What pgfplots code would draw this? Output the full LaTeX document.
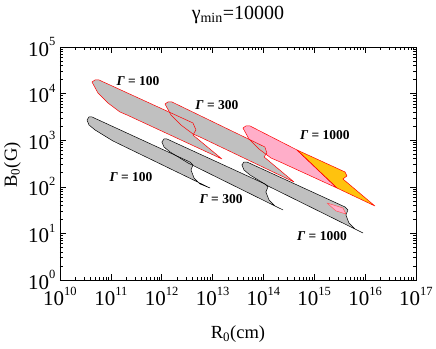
\documentclass[border=0pt]{standalone}
\usepackage{pgfplots}
\pgfplotsset{compat=1.18}
\usepackage{pgfplotstable}
\usepackage{fontspec}
\setmainfont{Liberation Serif}
\definecolor{grayfill}{RGB}{192,192,192}
\definecolor{pinkfill}{RGB}{255,174,201}
\definecolor{orangefill}{RGB}{255,194,14}
\newcommand{\tp}[1]{10\raisebox{0.48em}{\fontsize{12.5}{12.5}\selectfont #1}}

% red Gamma=100
\pgfplotstableread{
x y
4.26e10 1.77e4
4.88e10 1.96e4
5.85e10 1.96e4
4.12e12 2.34e3
4.72e12 1.66e3
4.12e12 1.29e3
1.53e13 395
2.07e11 3.48e3
1.51e11 4.03e3
8.79e10 6.28e3
5.58e10 1.03e4
4.26e10 1.77e4
}\redA
% red Gamma=300
\pgfplotstableread{
x y
1.16e12 5.98e3
1.33e12 6.61e3
1.59e12 6.61e3
1.07e14 714
1.17e14 531
1.03e14 437
3.99e14 127
5.66e12 1.17e3
4.12e12 1.36e3
2.39e12 2.12e3
1.52e12 3.48e3
1.16e12 5.98e3
}\redB
% red Gamma=1000, pink part
\pgfplotstableread{
x y
3.96e13 1.83e3
4.54e13 2.02e3
5.45e13 2.02e3
4.57e14 617
2.79e15 94.2
1.93e14 358
1.41e14 415
8.18e13 647
5.20e13 1.06e3
3.96e13 1.83e3
}\redCpink
% red Gamma=1000, orange part
\pgfplotstableread{
x y
4.57e14 617
4.02e15 208
4.40e15 171
3.66e15 147
1.56e16 38.7
2.79e15 94.2
4.57e14 617
}\redCorange
% black Gamma=100
\pgfplotstableread{
x y
3.40e10 2.71e3
3.72e10 3.15e3
4.26e10 3.15e3
3.60e12 340
4.12e12 294
3.77e12 230
4.32e12 155
5.66e12 115
8.89e12 94.2
1.10e11 962
4.88e10 1.66e3
3.72e10 2.12e3
3.40e10 2.71e3
}\blkA
% black Gamma=300
\pgfplotstableread{
x y
1.01e12 914
1.11e12 1.06e3
1.27e12 1.06e3
1.07e14 115
1.23e14 99.1
1.12e14 77.3
1.29e14 52.1
1.69e14 38.7
2.43e14 31.8
3.29e12 324
1.46e12 559
1.11e12 714
1.01e12 914
}\blkB
% black Gamma=1000
\pgfplotstableread{
x y
3.78e13 294
4.15e13 340
4.75e13 340
4.02e15 36.9
4.60e15 31.8
4.20e15 24.8
4.81e15 16.7
6.31e15 12.4
9.08e15 10.2
1.23e14 104
5.45e13 179
4.15e13 230
3.78e13 294
}\blkC
% small pink patch inside black Gamma=1000
\pgfplotstableread{
x y
1.78e15 44.9
3.66e15 35.1
4.20e15 26.1
2.67e15 30.3
1.78e15 44.9
}\blkCpink

\begin{document}
\begin{tikzpicture}
\path (-60pt,-69pt) rectangle (376pt,280pt);
\begin{axis}[
  at={(0pt,0pt)}, anchor=south west,
  scale only axis, width=356pt, height=233pt,
  xmode=log, ymode=log,
  xmin=1e10, xmax=1e17, ymin=1, ymax=1e5,
  xtick={1e10,1e11,1e12,1e13,1e14,1e15,1e16,1e17},
  xticklabels={\tp{10},\tp{11},\tp{12},\tp{13},\tp{14},\tp{15},\tp{16},\tp{17}},
  ytick={1,10,100,1000,1e4,1e5},
  yticklabels={\tp{0},\tp{1},\tp{2},\tp{3},\tp{4},\tp{5}},
  minor xtick={2e10,3e10,4e10,5e10,6e10,7e10,8e10,9e10,
    2e11,3e11,4e11,5e11,6e11,7e11,8e11,9e11,
    2e12,3e12,4e12,5e12,6e12,7e12,8e12,9e12,
    2e13,3e13,4e13,5e13,6e13,7e13,8e13,9e13,
    2e14,3e14,4e14,5e14,6e14,7e14,8e14,9e14,
    2e15,3e15,4e15,5e15,6e15,7e15,8e15,9e15,
    2e16,3e16,4e16,5e16,6e16,7e16,8e16,9e16},
  minor ytick={2,3,4,5,6,7,8,9,20,30,40,50,60,70,80,90,
    200,300,400,500,600,700,800,900,
    2e3,3e3,4e3,5e3,6e3,7e3,8e3,9e3,
    2e4,3e4,4e4,5e4,6e4,7e4,8e4,9e4},
  tick label style={font=\fontsize{21}{21}\selectfont},
  xticklabel style={yshift=-4pt},
  yticklabel style={xshift=-1pt},
  major tick length=6pt, minor tick length=3pt,
  every tick/.style={black, line width=0.5pt},
  axis line style={line width=0.8pt},
]
% fills
\addplot [fill=pinkfill, draw=none] table {\redCpink};
\addplot [fill=orangefill, draw=none] table {\redCorange};
\addplot [fill=grayfill, draw=none] table {\redB};
\addplot [fill=grayfill, draw=none] table {\redA};
\addplot [fill=grayfill, draw=none] table {\blkA};
\addplot [fill=grayfill, draw=none] table {\blkB};
\addplot [fill=grayfill, draw=none] table {\blkC};
\addplot [fill=pinkfill, draw=none] table {\blkCpink};
% outlines
\addplot [red, line width=0.5pt, line join=round] table {\redA};
\addplot [red, line width=0.5pt, line join=round] table {\redB};
\addplot [red, line width=0.5pt, line join=round] table {\redCpink};
\addplot [red, line width=0.5pt, line join=round] table {\redCorange};
\addplot [black, line width=0.5pt, line join=round] table {\blkA};
\addplot [black, line width=0.5pt, line join=round] table {\blkB};
\addplot [black, line width=0.5pt, line join=round] table {\blkC};
\addplot [red!70, line width=0.4pt, line join=round] table {\blkCpink};
% labels
\node[font=\fontsize{13.5}{13.5}\selectfont\bfseries] at (axis cs:3.42e11,1.86e4) {\textit{Γ} = 100};
\node[font=\fontsize{13.5}{13.5}\selectfont\bfseries] at (axis cs:1.22e13,5.69e3) {\textit{Γ} = 300};
\node[font=\fontsize{13.5}{13.5}\selectfont\bfseries] at (axis cs:1.62e15,1.29e3) {\textit{Γ} = 1000};
\node[font=\fontsize{13.5}{13.5}\selectfont\bfseries] at (axis cs:2.49e11,162) {\textit{Γ} = 100};
\node[font=\fontsize{13.5}{13.5}\selectfont\bfseries] at (axis cs:1.47e13,54.7) {\textit{Γ} = 300};
\node[font=\fontsize{13.5}{13.5}\selectfont\bfseries] at (axis cs:1.42e15,8.79) {\textit{Γ} = 1000};
\end{axis}
\node[font=\fontsize{20}{20}\selectfont] at (178pt,265pt) {γ\textsubscript{min}=10000};
\node[font=\fontsize{18.5}{18.5}\selectfont] at (178pt,-54pt) {R\textsubscript{0}(cm)};
\node[font=\fontsize{18.5}{18.5}\selectfont, rotate=90] at (-47.5pt,115pt) {B\textsubscript{0}(G)};
\end{tikzpicture}
\end{document}
